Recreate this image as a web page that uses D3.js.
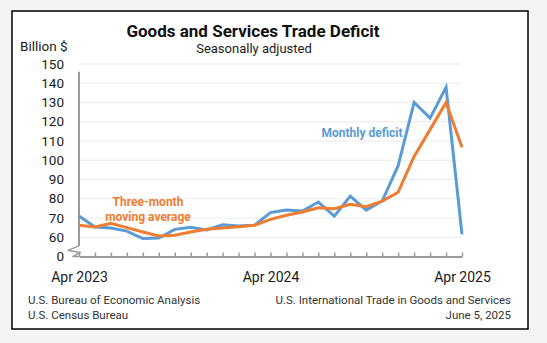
<!DOCTYPE html>
<html>
<head>
<meta charset="utf-8">
<script src="https://cdn.jsdelivr.net/npm/d3@7"></script>
<style>
  html, body { margin: 0; padding: 0; background: #f4f4f4; }
  svg { display: block; }
  text { font-family: Roboto, "Liberation Sans", sans-serif; }
</style>
</head>
<body>
<svg id="chart" width="547" height="343"></svg>
<script>
// Monthly goods and services trade balance (deficit, billions of dollars, SA)
const months = [
  "Apr 2023", "May 2023", "Jun 2023", "Jul 2023", "Aug 2023", "Sep 2023",
  "Oct 2023", "Nov 2023", "Dec 2023", "Jan 2024", "Feb 2024", "Mar 2024",
  "Apr 2024", "May 2024", "Jun 2024", "Jul 2024", "Aug 2024", "Sep 2024",
  "Oct 2024", "Nov 2024", "Dec 2024", "Jan 2025", "Feb 2025", "Mar 2025",
  "Apr 2025"
];
const monthlyDeficit = [
  71.0, 65.3, 64.8, 63.2, 59.3, 59.6, 64.1, 65.2, 63.8, 66.5, 65.8, 66.2,
  72.8, 74.1, 73.6, 78.3, 71.0, 81.4, 74.1, 78.8, 97.2, 130.0, 121.9, 137.9,
  61.5
];
const movingAverage = [
  66.2, 65.3, 67.2, 65.0, 62.7, 60.7, 61.0, 62.7, 64.1, 64.8, 65.5, 66.2,
  69.3, 71.4, 73.1, 75.3, 74.8, 77.1, 75.9, 78.8, 83.4, 102.0, 115.9, 130.0,
  106.8
];
const xTickLabels = ["Apr 2023", "Apr 2024", "Apr 2025"];
const yTickValues = [60, 70, 80, 90, 100, 110, 120, 130, 140, 150];
const yBreakLabel = "0";

const svg = d3.select("#chart");

// white panel with a black frame
svg.append("rect")
  .attr("x", 12).attr("y", 11).attr("width", 516).attr("height", 318)
  .attr("fill", "#ffffff").attr("stroke", "#000").attr("stroke-width", 1.5);

const x = d3.scalePoint().domain(months).range([79, 462]);
// axis is broken below 60: the floor of the scale is labelled 0
const y = d3.scaleLinear().domain([50, 150]).range([256.5, 64]);

// horizontal gridlines
svg.append("g")
  .selectAll("line")
  .data(yTickValues)
  .join("line")
  .attr("x1", 79).attr("x2", 462)
  .attr("y1", d => y(d)).attr("y2", d => y(d))
  .attr("stroke", "#ebebeb").attr("stroke-width", 1);

// y tick labels
const yLabels = svg.append("g").attr("font-size", 13.5).attr("fill", "#1a1a1a")
  .attr("text-anchor", "end");
yLabels.selectAll("text.tick")
  .data(yTickValues)
  .join("text")
  .attr("class", "tick")
  .attr("x", 64).attr("y", d => y(d)).attr("dy", "0.35em")
  .text(d => d);
yLabels.append("text")
  .attr("x", 64).attr("y", y(50)).attr("dy", "0.35em")
  .text(yBreakLabel);

// vertical axis line and the break symbol
const axisColor = "#9a9a9a";
svg.append("line")
  .attr("x1", x(months[0])).attr("x2", x(months[0]))
  .attr("y1", y(146)).attr("y2", y(55.5))
  .attr("stroke", axisColor).attr("stroke-width", 2);
const bx = x(months[0]), by = y(55.5);
svg.append("path")
  .attr("d", `M${bx},${by} L${bx - 11},${by + 4.5} L${bx + 1.5},${by + 6.5} L${bx - 6},${by + 10.5} L${bx},${y(50)}`)
  .attr("fill", "none").attr("stroke", axisColor).attr("stroke-width", 1.5)
  .attr("stroke-linejoin", "round");

// horizontal axis with upward month ticks
const xAxis = d3.axisBottom(x)
  .tickSizeInner(-4).tickSizeOuter(0)
  .tickFormat(d => xTickLabels.includes(d) ? d : "");
const gx = svg.append("g")
  .attr("transform", `translate(0,${y(50)})`)
  .call(xAxis);
gx.select(".domain").attr("stroke", axisColor).attr("stroke-width", 2);
gx.selectAll(".tick line").attr("stroke", axisColor).attr("stroke-width", 1.5);
gx.selectAll(".tick text")
  .attr("font-family", "Roboto, sans-serif")
  .attr("font-size", 14).attr("fill", "#1a1a1a")
  .attr("y", 0).attr("dy", 0)
  .attr("transform", "translate(0,25)");

// series lines
const line = d3.line()
  .x((d, i) => x(months[i]))
  .y(d => y(d));

svg.append("path")
  .datum(monthlyDeficit)
  .attr("d", line)
  .attr("fill", "none").attr("stroke", "#5b9bd5").attr("stroke-width", 3)
  .attr("stroke-linejoin", "miter");

svg.append("path")
  .datum(movingAverage)
  .attr("d", line)
  .attr("fill", "none").attr("stroke", "#ed7d31").attr("stroke-width", 3)
  .attr("stroke-linejoin", "miter");

// series labels
svg.append("text")
  .attr("x", 362).attr("y", 137)
  .attr("text-anchor", "middle").attr("font-size", 12).attr("font-weight", "bold")
  .attr("fill", "#5b9bd5")
  .text("Monthly deficit");

const ma = svg.append("text")
  .attr("text-anchor", "middle").attr("font-size", 12).attr("font-weight", "bold")
  .attr("fill", "#ed7d31");
ma.append("tspan").attr("x", 148).attr("y", 206).text("Three-month");
ma.append("tspan").attr("x", 148).attr("y", 221).text("moving average");

// titles
svg.append("text")
  .attr("x", 253).attr("y", 36.5)
  .attr("text-anchor", "middle").attr("font-size", 17).attr("font-weight", "bold")
  .attr("fill", "#111")
  .text("Goods and Services Trade Deficit");
svg.append("text")
  .attr("x", 254).attr("y", 53)
  .attr("text-anchor", "middle").attr("font-size", 13).attr("fill", "#1a1a1a")
  .text("Seasonally adjusted");
svg.append("text")
  .attr("x", 20).attr("y", 51)
  .attr("font-size", 13.5).attr("fill", "#1a1a1a")
  .text("Billion $");

// source notes
const notes = svg.append("g").attr("font-size", 11.5).attr("fill", "#333");
notes.append("text").attr("x", 28).attr("y", 304).text("U.S. Bureau of Economic Analysis");
notes.append("text").attr("x", 28).attr("y", 319).text("U.S. Census Bureau");
notes.append("text").attr("x", 511).attr("y", 304).attr("text-anchor", "end")
  .text("U.S. International Trade in Goods and Services");
notes.append("text").attr("x", 511).attr("y", 319).attr("text-anchor", "end")
  .text("June 5, 2025");
</script>
</body>
</html>
